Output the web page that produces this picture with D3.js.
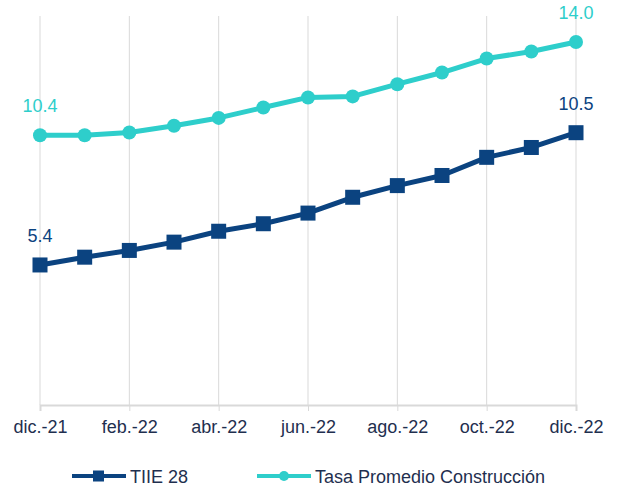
<!DOCTYPE html>
<html>
<head>
<meta charset="utf-8">
<script src="https://cdn.jsdelivr.net/npm/d3@7"></script>
<style>
  html, body { margin: 0; padding: 0; background: #fff; }
  svg { display: block; font-family: "Liberation Sans", Arial, sans-serif; }
</style>
</head>
<body>
<svg id="chart" width="617" height="488"></svg>
<script>
// Monthly series, Dec 2021 – Dec 2022
const months = ["dic.-21", "ene.-22", "feb.-22", "mar.-22", "abr.-22", "may.-22", "jun.-22",
                "jul.-22", "ago.-22", "sep.-22", "oct.-22", "nov.-22", "dic.-22"];
const tickMonths = ["dic.-21", "feb.-22", "abr.-22", "jun.-22", "ago.-22", "oct.-22", "dic.-22"];
const tiie28 = [5.4, 5.7, 5.96, 6.28, 6.7, 6.99, 7.4, 8.01, 8.46, 8.85, 9.55, 9.93, 10.5];
const tasaConstruccion = [10.4, 10.4, 10.51, 10.77, 11.07, 11.47, 11.86, 11.9, 12.37, 12.82, 13.36, 13.63, 14.0];
const seriesNames = ["TIIE 28", "Tasa Promedio Construcción"];

const navy = "#0B4380";
const teal = "#2ECECB";
const textColor = "#1F2F4F";
const gridColor = "#D9D9D9";

const svg = d3.select("#chart");

const x = d3.scalePoint().domain(months).range([40, 576]);
const y = d3.scaleLinear().domain([0, 15]).range([405, 16]);

// vertical gridlines at labelled months
svg.append("g")
  .selectAll("line")
  .data(tickMonths)
  .join("line")
  .attr("x1", d => x(d)).attr("x2", d => x(d))
  .attr("y1", y(15)).attr("y2", y(0))
  .attr("stroke", gridColor).attr("stroke-width", 1);

// bottom axis
const xAxis = svg.append("g")
  .attr("transform", `translate(0,${y(0)})`)
  .call(d3.axisBottom(x).tickValues(tickMonths).tickSizeOuter(0).tickSize(6).tickPadding(9));
xAxis.select(".domain").attr("stroke", gridColor).attr("stroke-width", 2);
xAxis.selectAll(".tick line").attr("stroke", gridColor).attr("stroke-width", 1);
xAxis.selectAll(".tick text")
  .attr("fill", textColor)
  .style("font-size", "18px")
  .style("font-family", "Liberation Sans, Arial, sans-serif");

const line = d3.line().x((d, i) => x(months[i])).y(d => y(d));

// Tasa Promedio Construcción (circles)
svg.append("path")
  .datum(tasaConstruccion)
  .attr("d", line)
  .attr("fill", "none")
  .attr("stroke", teal)
  .attr("stroke-width", 5)
  .attr("stroke-linejoin", "round");
svg.append("g")
  .selectAll("circle")
  .data(tasaConstruccion)
  .join("circle")
  .attr("cx", (d, i) => x(months[i]))
  .attr("cy", d => y(d))
  .attr("r", 7)
  .attr("fill", teal);

// TIIE 28 (squares)
svg.append("path")
  .datum(tiie28)
  .attr("d", line)
  .attr("fill", "none")
  .attr("stroke", navy)
  .attr("stroke-width", 5)
  .attr("stroke-linejoin", "round");
const sq = 15;
svg.append("g")
  .selectAll("rect")
  .data(tiie28)
  .join("rect")
  .attr("x", (d, i) => x(months[i]) - sq / 2)
  .attr("y", d => y(d) - sq / 2)
  .attr("width", sq)
  .attr("height", sq)
  .attr("fill", navy);

// first / last value labels
const labels = [
  { idx: 0, v: tasaConstruccion[0], color: teal },
  { idx: 12, v: tasaConstruccion[12], color: teal },
  { idx: 0, v: tiie28[0], color: navy },
  { idx: 12, v: tiie28[12], color: navy }
];
svg.append("g")
  .selectAll("text")
  .data(labels)
  .join("text")
  .attr("x", d => x(months[d.idx]))
  .attr("y", d => y(d.v) - 23)
  .attr("text-anchor", "middle")
  .attr("fill", d => d.color)
  .style("font-size", "18px")
  .text(d => d.v.toFixed(1));

// legend
const legend = svg.append("g").attr("transform", "translate(0,476)");
const l1 = legend.append("g");
l1.append("line").attr("x1", 72).attr("x2", 126).attr("y1", 0).attr("y2", 0)
  .attr("stroke", navy).attr("stroke-width", 4);
l1.append("rect").attr("x", 98.5 - 5.5).attr("y", -5.5).attr("width", 11).attr("height", 11).attr("fill", navy);
l1.append("text").attr("x", 130).attr("y", 6.5).attr("fill", textColor)
  .style("font-size", "18px").text(seriesNames[0]);

const l2 = legend.append("g");
l2.append("line").attr("x1", 257).attr("x2", 311).attr("y1", 0).attr("y2", 0)
  .attr("stroke", teal).attr("stroke-width", 4);
l2.append("circle").attr("cx", 284).attr("cy", 0).attr("r", 5).attr("fill", teal);
l2.append("text").attr("x", 315).attr("y", 6.5).attr("fill", textColor)
  .style("font-size", "18px").text(seriesNames[1]);
</script>
</body>
</html>
